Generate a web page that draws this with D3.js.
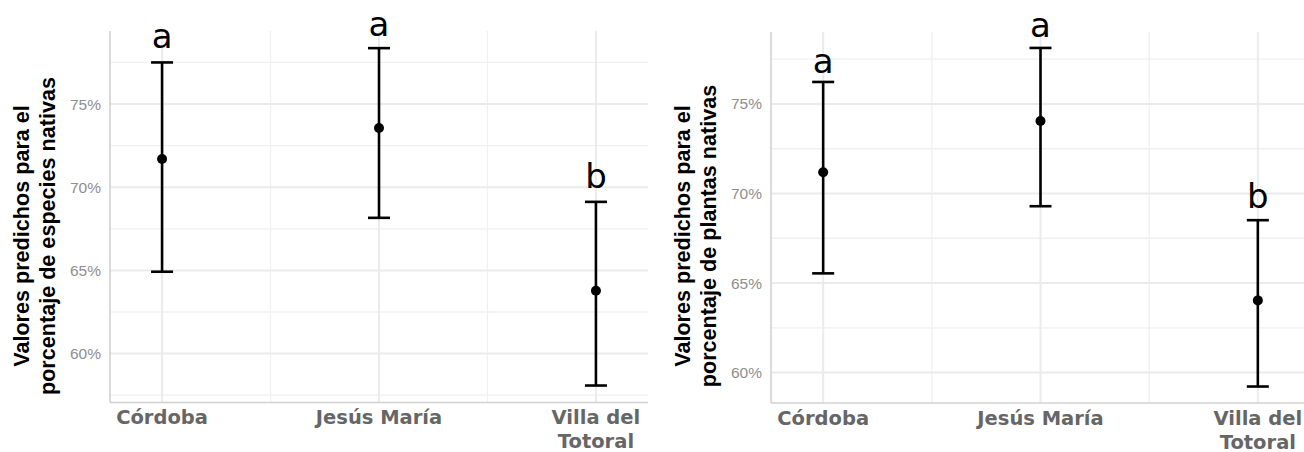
<!DOCTYPE html>
<html>
<head>
<meta charset="utf-8">
<script src="https://cdn.jsdelivr.net/npm/d3@7"></script>
<style>
  html, body { margin: 0; padding: 0; background: #ffffff; }
  svg { display: block; }
</style>
</head>
<body>
<svg id="chart" width="1304" height="452"></svg>
<script>
// ---------- data ----------
const categories = ["Córdoba", "Jesús María", "Villa del Totoral"];
const categoryLabelLines = [["Córdoba"], ["Jesús María"], ["Villa del", "Totoral"]];
const groupLetters = ["a", "a", "b"];
const yTickValues = [60, 65, 70, 75];

// Panel 1: porcentaje de especies nativas
const especiesFit = [71.70, 73.56, 63.78];
const especiesLower = [64.92, 68.16, 58.08];
const especiesUpper = [77.50, 78.36, 69.12];
const especiesLetterY = [78.37, 79.06, 69.97];
const especiesTitle = ["Valores predichos para el", "porcentaje de especies nativas"];

// Panel 2: porcentaje de plantas nativas
const plantasFit = [71.19, 74.05, 64.03];
const plantasLower = [65.54, 69.29, 59.22];
const plantasUpper = [76.23, 78.13, 68.51];
const plantasLetterY = [76.72, 78.74, 69.19];
const plantasTitle = ["Valores predichos para el", "porcentaje de plantas nativas"];

// ---------- drawing ----------
const svg = d3.select("#chart");

function drawPanel(opt) {
  const g = svg.append("g");
  const x = d3.scalePoint().domain(categories).range([opt.left, opt.right]).padding(0.24);
  const y = d3.scaleLinear().domain(opt.yDomain).range([opt.bottom, opt.top]);

  // minor grid (horizontal)
  const minorY = [];
  for (let i = 0; i <= yTickValues.length; i++) {
    const v = (i === 0 ? yTickValues[0] - 2.5 : yTickValues[i - 1] + 2.5);
    if (v > opt.yDomain[0] && v < opt.yDomain[1]) minorY.push(v);
  }
  g.selectAll(".minorY").data(minorY).enter().append("line")
    .attr("x1", opt.left).attr("x2", opt.right)
    .attr("y1", d => y(d)).attr("y2", d => y(d))
    .attr("stroke", "#f0f0f0").attr("stroke-width", 1.3);
  // minor grid (vertical)
  const minorX = categories.slice(1).map((c, i) => (x(categories[i]) + x(c)) / 2);
  g.selectAll(".minorX").data(minorX).enter().append("line")
    .attr("x1", d => d).attr("x2", d => d)
    .attr("y1", opt.top).attr("y2", opt.bottom)
    .attr("stroke", "#f0f0f0").attr("stroke-width", 1.3);
  // major grid
  g.selectAll(".majorY").data(yTickValues).enter().append("line")
    .attr("x1", opt.left).attr("x2", opt.right)
    .attr("y1", d => y(d)).attr("y2", d => y(d))
    .attr("stroke", "#ebebeb").attr("stroke-width", 2);
  g.selectAll(".majorX").data(categories).enter().append("line")
    .attr("x1", d => x(d)).attr("x2", d => x(d))
    .attr("y1", opt.top).attr("y2", opt.bottom)
    .attr("stroke", "#ebebeb").attr("stroke-width", 2);

  // axis lines
  g.append("line").attr("x1", opt.left).attr("x2", opt.left)
    .attr("y1", opt.top).attr("y2", opt.bottom)
    .attr("stroke", "#d2d2d2").attr("stroke-width", 1.6);
  g.append("line").attr("x1", opt.left).attr("x2", opt.right)
    .attr("y1", opt.bottom).attr("y2", opt.bottom)
    .attr("stroke", "#d2d2d2").attr("stroke-width", 1.6);

  // y axis tick labels via d3 axis
  const yAxis = d3.axisLeft(y).tickValues(yTickValues)
    .tickFormat(d => d + "%").tickSize(0).tickPadding(9);
  const ya = g.append("g").attr("transform", `translate(${opt.left},0)`).call(yAxis);
  ya.select(".domain").remove();
  ya.selectAll("text")
    .attr("fill", "#8e8e8e")
    .style("font-family", "'Liberation Sans', Arial, sans-serif")
    .style("font-size", "15.5px");

  // x axis labels
  const xl = g.selectAll(".xlab").data(categories).enter().append("text")
    .attr("x", d => x(d))
    .attr("y", opt.bottom + 21.5)
    .attr("text-anchor", "middle")
    .attr("fill", "#666666")
    .style("font-family", "'DejaVu Sans', sans-serif")
    .style("font-weight", "bold")
    .style("font-size", "19.5px");
  xl.each(function(d, i) {
    const t = d3.select(this);
    categoryLabelLines[i].forEach((line, j) => {
      t.append("tspan").attr("x", x(d)).attr("dy", j === 0 ? 0 : 24).text(line);
    });
  });

  // y title
  const tt = g.append("text")
    .attr("transform", `translate(${opt.titleX},${opt.titleY}) rotate(-90)`)
    .attr("text-anchor", "middle")
    .attr("fill", "#000")
    .style("font-family", "'Liberation Sans', Arial, sans-serif")
    .style("font-weight", "bold")
    .style("font-size", "21.6px");
  opt.title.forEach((line, j) => {
    tt.append("tspan").attr("x", 0).attr("dy", j === 0 ? 0 : 26).text(line);
  });

  // error bars
  const capHalf = 11;
  const eb = g.selectAll(".eb").data(categories).enter().append("g");
  eb.append("line")
    .attr("x1", d => x(d)).attr("x2", d => x(d))
    .attr("y1", (d, i) => y(opt.lower[i])).attr("y2", (d, i) => y(opt.upper[i]))
    .attr("stroke", "#000").attr("stroke-width", 2.6);
  eb.append("line")
    .attr("x1", d => x(d) - capHalf).attr("x2", d => x(d) + capHalf)
    .attr("y1", (d, i) => y(opt.upper[i])).attr("y2", (d, i) => y(opt.upper[i]))
    .attr("stroke", "#000").attr("stroke-width", 2.6);
  eb.append("line")
    .attr("x1", d => x(d) - capHalf).attr("x2", d => x(d) + capHalf)
    .attr("y1", (d, i) => y(opt.lower[i])).attr("y2", (d, i) => y(opt.lower[i]))
    .attr("stroke", "#000").attr("stroke-width", 2.6);
  eb.append("circle")
    .attr("cx", d => x(d)).attr("cy", (d, i) => y(opt.fit[i]))
    .attr("r", 5).attr("fill", "#000");

  // group letters
  g.selectAll(".letter").data(categories).enter().append("text")
    .attr("x", d => x(d))
    .attr("y", (d, i) => y(opt.letterY[i]))
    .attr("text-anchor", "middle")
    .attr("fill", "#000")
    .style("font-family", "'DejaVu Sans', sans-serif")
    .style("font-size", "34px")
    .text((d, i) => groupLetters[i]);
}

drawPanel({
  left: 110, right: 648, top: 31, bottom: 402.5,
  yDomain: [57.06, 79.39],
  fit: especiesFit, lower: especiesLower, upper: especiesUpper, letterY: especiesLetterY,
  title: especiesTitle, titleX: 29, titleY: 236
});
drawPanel({
  left: 771, right: 1310, top: 32, bottom: 403,
  yDomain: [58.30, 79.02],
  fit: plantasFit, lower: plantasLower, upper: plantasUpper, letterY: plantasLetterY,
  title: plantasTitle, titleX: 690, titleY: 236
});
</script>
</body>
</html>
